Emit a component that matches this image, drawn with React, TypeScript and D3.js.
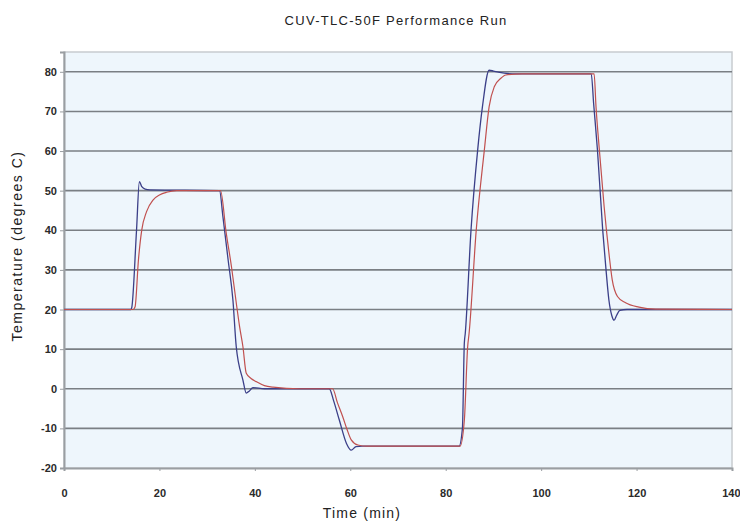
import React, { useRef, useEffect } from 'react';
import * as d3 from 'd3';

// Fast-responding trace (blue)
const blueTime = [0, 14, 14.2, 15.2, 15.8, 16.3, 17, 18, 32.6, 33.3, 34.4, 35.4, 36.1, 37.5, 38.2, 38.8, 39.6, 42, 55.6, 56.5, 57.7, 59.2, 60.2, 61.2, 62.5, 82.8, 83.5, 83.9, 84.1, 85.3, 86.7, 87.7, 89.1, 90, 91, 94, 110.5, 111, 111.8, 112.9, 113.6, 114.2, 114.8, 115.3, 115.8, 116.5, 118, 140];
const blueTemp = [20, 20, 20.5, 40, 52.3, 51, 50.4, 50.2, 50, 43.5, 32.5, 22.4, 10.6, 2.2, -1.1, -0.6, 0.3, 0, 0, -3, -7.9, -13.8, -15.5, -14.6, -14.5, -14.5, -10, 11.5, 14, 40, 60.3, 71.2, 80.4, 80.2, 79.9, 79.5, 79.5, 72, 60.3, 40.1, 30, 22.4, 18.5, 17.3, 18.5, 19.8, 20, 20];

// Lagging trace (red)
const redTime = [0, 14.5, 14.9, 15.6, 16.3, 17.3, 18.7, 20, 21.5, 23.6, 32.8, 34, 35.1, 36.1, 36.8, 37.5, 38.2, 39.2, 40.3, 42, 43.8, 49.4, 56.3, 57.3, 58.4, 59.3, 60.2, 61.6, 63.5, 83, 83.9, 84.6, 84.9, 86.4, 88.1, 89.1, 90.2, 91.5, 92.6, 96, 111.1, 111.5, 112.2, 113.2, 114.2, 114.9, 116, 117.7, 120.5, 124, 140];
const redTemp = [20, 20, 20.7, 32.5, 40.1, 44.7, 47.7, 48.9, 49.6, 50, 50, 39.3, 30.8, 21.7, 15.7, 10.6, 3.9, 2.6, 1.8, 0.8, 0.4, 0, 0, -3.5, -7, -10.2, -12.9, -14.2, -14.5, -14.5, -8, 10.6, 14, 40.1, 60.3, 71.2, 76.3, 78.3, 79.2, 79.5, 79.5, 71.2, 60.3, 46, 34.3, 27.5, 23.3, 21.7, 20.6, 20.1, 20];

const yTicks = [-20, -10, 0, 10, 20, 30, 40, 50, 60, 70, 80];
const xTicks = [0, 20, 40, 60, 80, 100, 120, 140];

export default function App() {
  const svgRef = useRef<SVGSVGElement | null>(null);

  useEffect(() => {
    if (!svgRef.current) return;
    const svg = d3.select(svgRef.current);
    svg.selectAll("*").remove();

    const width = 740;
    const height = 522;
    const margin = { top: 52, right: 8, bottom: 54, left: 64 };
    const font = "Liberation Sans, Arial, sans-serif";

    const x = d3.scaleLinear().domain([0, 140]).range([margin.left, width - margin.right]);
    const y = d3.scaleLinear().domain([-20, 85]).range([height - margin.bottom, margin.top]);

    svg.append("rect")
      .attr("width", width).attr("height", height).attr("fill", "#ffffff");

    // plot area
    svg.append("rect")
      .attr("x", margin.left).attr("y", margin.top)
      .attr("width", width - margin.left - margin.right)
      .attr("height", height - margin.top - margin.bottom)
      .attr("fill", "#eef6fc")
      .attr("stroke", "#c8ccd0")
      .attr("stroke-width", 1.5);

    // horizontal gridlines
    svg.append("g")
      .selectAll("line")
      .data(yTicks.filter(d => d > -20))
      .enter()
      .append("line")
      .attr("x1", margin.left).attr("x2", width - margin.right)
      .attr("y1", d => y(d)).attr("y2", d => y(d))
      .attr("stroke", "#7a7f84")
      .attr("stroke-width", 1.6);

    // y axis
    const yAxis = d3.axisLeft(y).tickValues(yTicks).tickSize(4).tickPadding(3)
      .tickFormat(d => String(d));
    svg.append("g")
      .attr("transform", `translate(${margin.left},0)`)
      .call(yAxis)
      .call(g => g.select(".domain").attr("stroke", "#9a9ea2").attr("stroke-width", 2))
      .call(g => g.selectAll(".tick line").attr("stroke", "#9a9ea2"))
      .selectAll("text")
      .attr("font-family", font)
      .attr("font-size", "11px")
      .attr("font-weight", "bold")
      .attr("fill", "#2a2a2a");

    // x axis
    const xAxis = d3.axisBottom(x).tickValues(xTicks).tickSize(3).tickPadding(18)
      .tickFormat(d => String(d));
    svg.append("g")
      .attr("transform", `translate(0,${height - margin.bottom})`)
      .call(xAxis)
      .call(g => g.select(".domain").attr("stroke", "#9a9ea2").attr("stroke-width", 2))
      .call(g => g.selectAll(".tick line").attr("stroke", "#9a9ea2"))
      .selectAll("text")
      .attr("font-family", font)
      .attr("font-size", "11px")
      .attr("font-weight", "bold")
      .attr("fill", "#2a2a2a")
      .attr("text-anchor", d => (d === 140 ? "end" : "middle"))
      .attr("dx", d => (d === 140 ? "8px" : "0"));

    const line = d3.line<[number, number]>()
      .x(d => x(d[0]))
      .y(d => y(d[1]))
      .curve(d3.curveMonotoneX);

    const blueData = blueTime.map((t, i) => [t, blueTemp[i]] as [number, number]);
    const redData = redTime.map((t, i) => [t, redTemp[i]] as [number, number]);

    svg.append("path")
      .datum(blueData)
      .attr("d", line)
      .attr("fill", "none")
      .attr("stroke", "#3b3f88")
      .attr("stroke-width", 1.3);

    svg.append("path")
      .datum(redData)
      .attr("d", line)
      .attr("fill", "none")
      .attr("stroke", "#c0504f")
      .attr("stroke-width", 1.2);

    // title
    svg.append("text")
      .attr("x", 396).attr("y", 25)
      .attr("text-anchor", "middle")
      .attr("font-family", font)
      .attr("font-size", "13px")
      .attr("letter-spacing", "1.3px")
      .attr("fill", "#222")
      .text("CUV-TLC-50F Performance Run");

    // axis titles
    svg.append("text")
      .attr("x", 362).attr("y", 518)
      .attr("text-anchor", "middle")
      .attr("font-family", font)
      .attr("font-size", "14px")
      .attr("letter-spacing", "1.2px")
      .attr("fill", "#222")
      .text("Time (min)");

    svg.append("text")
      .attr("transform", "translate(22,246) rotate(-90)")
      .attr("text-anchor", "middle")
      .attr("font-family", font)
      .attr("font-size", "14px")
      .attr("letter-spacing", "1.5px")
      .attr("fill", "#222")
      .text("Temperature (degrees C)");
  }, []);

  return (
    <svg
      ref={svgRef}
      width={740}
      height={522}
      style={{ position: "absolute", left: 0, top: 0, display: "block" }}
    />
  );
}
